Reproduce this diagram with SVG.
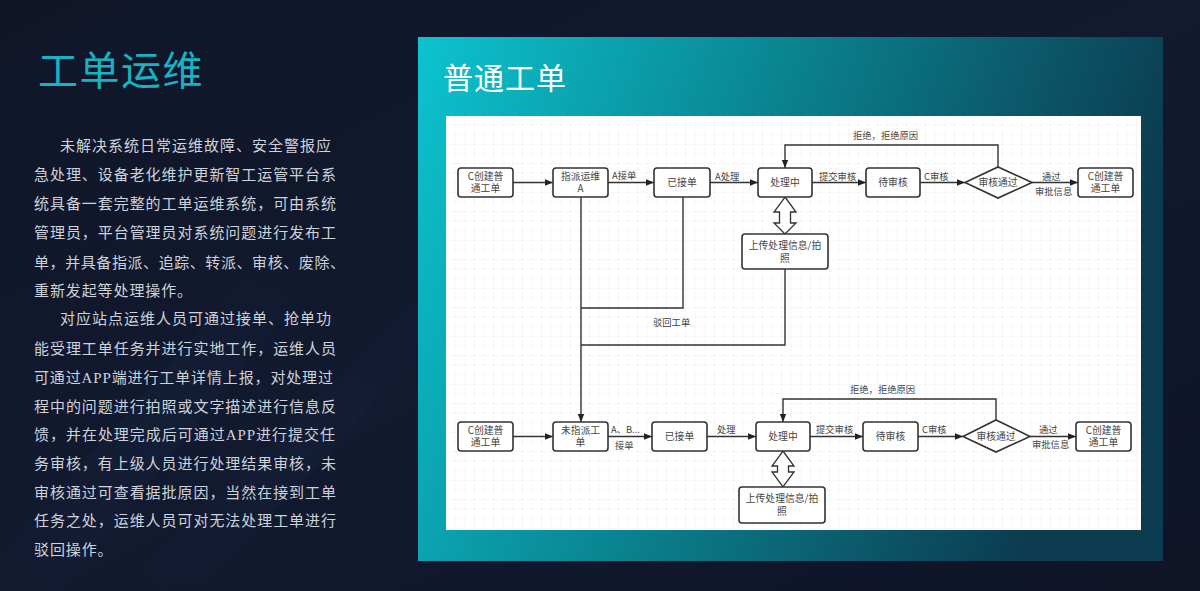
<svg xmlns="http://www.w3.org/2000/svg" width="1200" height="591" viewBox="0 0 1200 591">
<defs>
<linearGradient id="bg" x1="0" y1="0" x2="1" y2="1">
<stop offset="0" stop-color="#101628"/>
<stop offset="0.5" stop-color="#121a30"/>
<stop offset="1" stop-color="#0f1427"/>
</linearGradient>
<linearGradient id="streak" x1="0" y1="1" x2="1" y2="0">
<stop offset="0" stop-color="#1a2a48" stop-opacity="0"/>
<stop offset="0.5" stop-color="#1d3355" stop-opacity="0.35"/>
<stop offset="1" stop-color="#1a2a48" stop-opacity="0"/>
</linearGradient>
<linearGradient id="panel" x1="0" y1="0" x2="1" y2="0.25">
<stop offset="0" stop-color="#0cc3cf"/>
<stop offset="0.45" stop-color="#0a8794"/>
<stop offset="1" stop-color="#0c3b4f"/>
</linearGradient>
<pattern id="grid" x="446" y="116" width="9.6" height="9.6" patternUnits="userSpaceOnUse">
<path d="M9.6 0V9.6M0 9.6H9.6" fill="none" stroke="#e9e9e9" stroke-width="0.7"/>
</pattern>
<marker id="arr" viewBox="0 0 10 10" refX="10" refY="5" markerWidth="8" markerHeight="8" markerUnits="userSpaceOnUse" orient="auto">
<path d="M0 1L10 5L0 9Z" fill="#222"/>
</marker>
<style>
.para{font-family:"Noto Sans CJK SC","Noto Sans",sans-serif;font-size:15px;fill:#cdd2db}
.lbl{font-family:"Noto Sans CJK SC","Liberation Sans",sans-serif;font-size:9.3px;fill:#444}
.nt{font-family:"Noto Sans CJK SC","Liberation Sans",sans-serif;font-size:9.8px;fill:#444;text-anchor:middle}
.box{fill:#fff;stroke:#333;stroke-width:1.6}
.ln{fill:none;stroke:#333;stroke-width:1.4}
.dbl{fill:#fff;stroke:#333;stroke-width:1.3;stroke-linejoin:miter}
</style>
</defs>
<rect width="1200" height="591" fill="url(#bg)"/>
<path d="M0 560L260 260L330 260L60 591Z" fill="url(#streak)" opacity="0.5"/>
<path d="M120 591L420 300L470 300L200 591Z" fill="url(#streak)" opacity="0.4"/>
<text x="38" y="85" font-family="'Noto Sans CJK SC',sans-serif" font-size="40" letter-spacing="1.5" fill="#17b3c3">工单运维</text>
<g id="paragraph">
<text class="para" x="60" y="150.7" textLength="271" lengthAdjust="spacing">未解决系统日常运维故障、安全警报应</text>
<text class="para" x="34" y="179.7" textLength="302" lengthAdjust="spacing">急处理、设备老化维护更新智工运管平台系</text>
<text class="para" x="34" y="208.7" textLength="302" lengthAdjust="spacing">统具备一套完整的工单运维系统，可由系统</text>
<text class="para" x="34" y="237.7" textLength="302" lengthAdjust="spacing">管理员，平台管理员对系统问题进行发布工</text>
<text class="para" x="34" y="267.7" textLength="311" lengthAdjust="spacing">单，并具备指派、追踪、转派、审核、废除、</text>
<text class="para" x="34" y="295.7" letter-spacing="0.9">重新发起等处理操作。</text>
<text class="para" x="60" y="324.2" textLength="271" lengthAdjust="spacing">对应站点运维人员可通过接单、抢单功</text>
<text class="para" x="34" y="353.7" textLength="302" lengthAdjust="spacing">能受理工单任务并进行实地工作，运维人员</text>
<text class="para" x="34" y="382.7" textLength="299" lengthAdjust="spacing">可通过<tspan font-family="'Liberation Serif',serif">APP</tspan>端进行工单详情上报，对处理过</text>
<text class="para" x="34" y="411.7" textLength="302" lengthAdjust="spacing">程中的问题进行拍照或文字描述进行信息反</text>
<text class="para" x="34" y="439.7" textLength="301" lengthAdjust="spacing">馈，并在处理完成后可通过<tspan font-family="'Liberation Serif',serif">APP</tspan>进行提交任</text>
<text class="para" x="34" y="468.7" textLength="302" lengthAdjust="spacing">务审核，有上级人员进行处理结果审核，未</text>
<text class="para" x="34" y="497.7" textLength="302" lengthAdjust="spacing">审核通过可查看据批原因，当然在接到工单</text>
<text class="para" x="34" y="525.7" textLength="302" lengthAdjust="spacing">任务之处，运维人员可对无法处理工单进行</text>
<text class="para" x="34" y="554.7" letter-spacing="0.9">驳回操作。</text>
</g>
<rect x="418" y="37" width="745" height="524" fill="url(#panel)"/>
<text x="443" y="89" font-family="'Noto Sans CJK SC',sans-serif" font-size="30" letter-spacing="1" fill="#ffffff">普通工单</text>
<rect x="446" y="116" width="695" height="414" fill="#fff"/>
<rect x="446" y="116" width="695" height="414" fill="url(#grid)"/>
<g id="connectors">
<path class="ln" d="M513 182.5H553" marker-end="url(#arr)"/>
<path class="ln" d="M608 182.5H654" marker-end="url(#arr)"/>
<path class="ln" d="M710 182.5H758" marker-end="url(#arr)"/>
<path class="ln" d="M812 182.5H866" marker-end="url(#arr)"/>
<path class="ln" d="M920 182.5H965" marker-end="url(#arr)"/>
<path class="ln" d="M1032 182.5H1078" marker-end="url(#arr)"/>
<path class="ln" d="M998 167V145H785V168" marker-end="url(#arr)"/>
<path class="ln" d="M785 269V345H581"/>
<path class="ln" d="M683 197V308H581"/>
<path class="ln" d="M581 197V422" marker-end="url(#arr)"/>
<path class="dbl" d="M785 197L796 212H790.5V223H796L785 234L774 223H779.5V212H774Z"/>
<path class="ln" d="M513 436.5H553" marker-end="url(#arr)"/>
<path class="ln" d="M608 436.5H652" marker-end="url(#arr)"/>
<path class="ln" d="M707 436.5H756" marker-end="url(#arr)"/>
<path class="ln" d="M810 436.5H863" marker-end="url(#arr)"/>
<path class="ln" d="M918 436.5H963" marker-end="url(#arr)"/>
<path class="ln" d="M1030 436.5H1076" marker-end="url(#arr)"/>
<path class="ln" d="M996 420V399H783V422" marker-end="url(#arr)"/>
<path class="dbl" d="M783 451L794 466H788.5V472H794L783 487L772 472H777.5V466H772Z"/>
<text class="lbl" x="612" y="179">A接单</text>
<text class="lbl" x="715" y="179.5">A处理</text>
<text class="lbl" x="819" y="179.5">提交审核</text>
<text class="lbl" x="924" y="179.5">C审核</text>
<text class="lbl" x="1042" y="179.5">通过</text>
<text class="lbl" x="1035" y="194.5">审批信息</text>
<text class="lbl" x="853" y="138.5">拒绝，拒绝原因</text>
<text class="lbl" x="653" y="325.5">驳回工单</text>
<text class="lbl" x="611" y="432.5">A、B...</text>
<text class="lbl" x="615" y="448.5">接单</text>
<text class="lbl" x="717" y="432.5">处理</text>
<text class="lbl" x="816" y="432.5">提交审核</text>
<text class="lbl" x="922" y="432.5">C审核</text>
<text class="lbl" x="1039" y="432.5">通过</text>
<text class="lbl" x="1032" y="447.5">审批信息</text>
<text class="lbl" x="850" y="392.5">拒绝，拒绝原因</text>
</g>
<g id="n-create1"><rect class="box" x="458" y="168" width="55" height="29" rx="3"/><text class="nt" x="485.5" y="180">C创建普</text><text class="nt" x="485.5" y="192">通工单</text></g>
<g id="n-assign"><rect class="box" x="553" y="168" width="55" height="29" rx="3"/><text class="nt" x="580.5" y="180">指派运维</text><text class="nt" x="580.5" y="192">A</text></g>
<g id="n-accepted1"><rect class="box" x="654" y="168" width="56" height="29" rx="3"/><text class="nt" x="682" y="186">已接单</text></g>
<g id="n-processing1"><rect class="box" x="758" y="168" width="54" height="29" rx="3"/><text class="nt" x="785" y="186">处理中</text></g>
<g id="n-pending1"><rect class="box" x="866" y="168" width="54" height="29" rx="3"/><text class="nt" x="893" y="186">待审核</text></g>
<g id="n-review1"><path class="box" d="M965 182.5L998 167L1032 182.5L998 198Z"/><text class="nt" x="998" y="186">审核通过</text></g>
<g id="n-create2"><rect class="box" x="1078" y="168" width="55" height="29" rx="3"/><text class="nt" x="1105.5" y="180">C创建普</text><text class="nt" x="1105.5" y="192">通工单</text></g>
<g id="n-upload1"><rect class="box" x="742" y="234" width="86" height="35" rx="3"/><text class="nt" x="785" y="249">上传处理信息/拍</text><text class="nt" x="785" y="262">照</text></g>
<g id="n-create3"><rect class="box" x="458" y="422" width="55" height="29" rx="3"/><text class="nt" x="485.5" y="434">C创建普</text><text class="nt" x="485.5" y="446">通工单</text></g>
<g id="n-unassigned"><rect class="box" x="553" y="422" width="55" height="29" rx="3"/><text class="nt" x="580.5" y="434">未指派工</text><text class="nt" x="580.5" y="446">单</text></g>
<g id="n-accepted2"><rect class="box" x="652" y="422" width="55" height="29" rx="3"/><text class="nt" x="679.5" y="440">已接单</text></g>
<g id="n-processing2"><rect class="box" x="756" y="422" width="54" height="29" rx="3"/><text class="nt" x="783" y="440">处理中</text></g>
<g id="n-pending2"><rect class="box" x="863" y="422" width="55" height="29" rx="3"/><text class="nt" x="890.5" y="440">待审核</text></g>
<g id="n-review2"><path class="box" d="M963 436.5L996 420L1030 436.5L996 452Z"/><text class="nt" x="996" y="440">审核通过</text></g>
<g id="n-create4"><rect class="box" x="1076" y="422" width="55" height="29" rx="3"/><text class="nt" x="1103.5" y="434">C创建普</text><text class="nt" x="1103.5" y="446">通工单</text></g>
<g id="n-upload2"><rect class="box" x="739" y="487" width="86" height="36" rx="3"/><text class="nt" x="782" y="502">上传处理信息/拍</text><text class="nt" x="782" y="515">照</text></g>
</svg>
